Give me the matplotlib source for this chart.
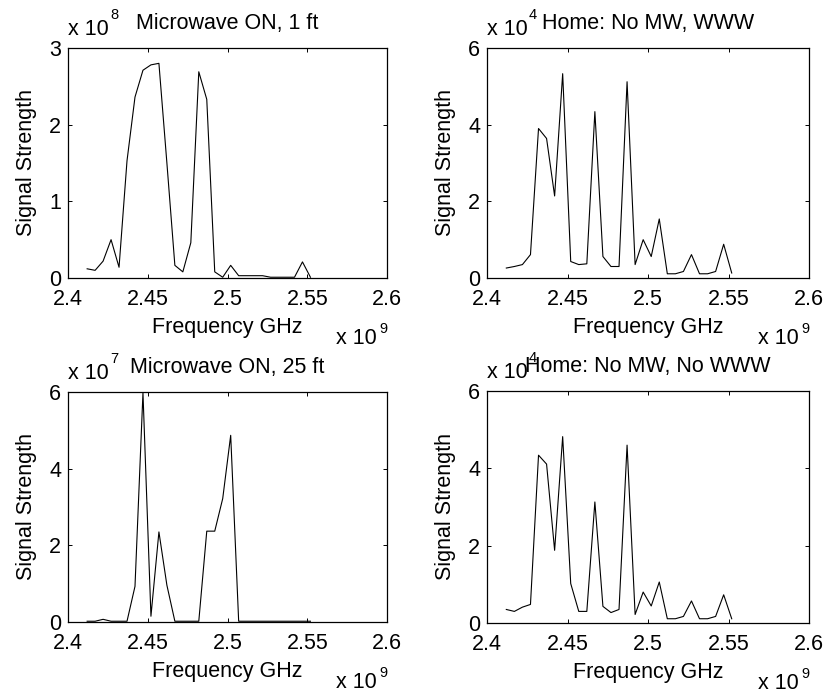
import matplotlib
matplotlib.use("Agg")
import matplotlib.pyplot as plt
import numpy as np
from matplotlib.ticker import FixedLocator, FuncFormatter

plt.rcParams["font.family"] = ["Liberation Sans", "DejaVu Sans"]

# channel centre frequencies, GHz
freq_ghz = [2.412, 2.417, 2.422, 2.427, 2.432, 2.437, 2.442, 2.447, 2.452, 2.457,
            2.462, 2.467, 2.472, 2.477, 2.482, 2.487, 2.492, 2.497, 2.502, 2.507,
            2.512, 2.517, 2.522, 2.527, 2.532, 2.537, 2.542, 2.547, 2.552]

# signal strength, in units of the axis exponent
mw_1ft = [0.12, 0.10, 0.22, 0.50, 0.14, 1.53, 2.36, 2.71, 2.78, 2.80,
          1.50, 0.165, 0.08, 0.46, 2.69, 2.33, 0.08, 0.01, 0.165, 0.03,
          0.03, 0.03, 0.03, 0.01, 0.01, 0.01, 0.01, 0.21, 0.01]
home_www = [0.26, 0.30, 0.35, 0.61, 3.90, 3.64, 2.14, 5.33, 0.43, 0.35,
            0.37, 4.34, 0.56, 0.30, 0.30, 5.12, 0.35, 1.00, 0.56, 1.54,
            0.11, 0.11, 0.17, 0.61, 0.11, 0.11, 0.17, 0.88, 0.13]
mw_25ft = [0.02, 0.02, 0.07, 0.02, 0.02, 0.02, 0.93, 5.98, 0.15, 2.35,
           0.96, 0.02, 0.02, 0.02, 0.02, 2.37, 2.37, 3.22, 4.87, 0.02,
           0.02, 0.02, 0.02, 0.02, 0.02, 0.02, 0.02, 0.02, 0.02]
home_none = [0.35, 0.30, 0.41, 0.48, 4.34, 4.11, 1.88, 4.82, 1.02, 0.30,
             0.30, 3.13, 0.43, 0.27, 0.35, 4.60, 0.22, 0.80, 0.44, 1.06,
             0.11, 0.11, 0.17, 0.57, 0.11, 0.11, 0.17, 0.73, 0.11]

titles = ["Microwave ON, 1 ft", "Home: No MW, WWW",
          "Microwave ON, 25 ft", "Home: No MW, No WWW"]
series = [mw_1ft, home_www, mw_25ft, home_none]
exps = [8, 4, 7, 4]
yticks = [[0, 1, 2, 3], [0, 2, 4, 6], [0, 2, 4, 6], [0, 2, 4, 6]]
xticks = [2.4, 2.45, 2.5, 2.55, 2.6]

W, H = 825, 694
# axes boxes in pixels: left, top, right, bottom
boxes = [(68, 48, 387, 278), (487, 48, 809, 278),
         (68, 392, 387, 622), (487, 391, 809, 623)]

fs = 15.5
fig = plt.figure(figsize=(W / 100, H / 100), dpi=100)
freq_hz = np.array(freq_ghz) * 1e9

for (l, t, r, b), title, vals, e, yt in zip(boxes, titles, series, exps, yticks):
    ax = fig.add_axes([l / W, (H - b) / H, (r - l) / W, (b - t) / H])
    w, h = r - l, b - t
    ax.plot(freq_hz, np.array(vals) * 10.0 ** e, color="black", lw=0.8)
    ax.set_xlim(2.4e9, 2.6e9)
    ax.set_ylim(0, yt[-1] * 10.0 ** e)
    ax.xaxis.set_major_locator(FixedLocator([v * 1e9 for v in xticks]))
    ax.yaxis.set_major_locator(FixedLocator([v * 10.0 ** e for v in yt]))
    ax.xaxis.set_major_formatter(FuncFormatter(lambda v, p: "%g" % round(v / 1e9, 3)))
    ax.yaxis.set_major_formatter(FuncFormatter(lambda v, p, e=e: "%g" % round(v / 10.0 ** e, 3)))
    ax.tick_params(direction="in", length=3, width=0.7, top=True, right=True,
                   labelsize=fs)
    ax.tick_params(axis="x", pad=8)
    ax.tick_params(axis="y", pad=5)
    for s in ax.spines.values():
        s.set_linewidth(0.9)

    ax.set_xlabel("Frequency GHz", fontsize=fs)
    ax.xaxis.set_label_coords(0.5, -39 / h)
    ax.set_ylabel("Signal Strength", fontsize=fs)
    ax.yaxis.set_label_coords(-31 / w, 0.5)

    ax.text(0.5, 1 + 19 / h, title, transform=ax.transAxes, ha="center",
            va="baseline", fontsize=fs)
    # exponent for the y axis, above the top left corner
    ax.text(0, 1 + 13 / h, "x 10", transform=ax.transAxes, ha="left",
            va="baseline", fontsize=fs)
    ax.text(42 / w, 1 + 29 / h, str(e), transform=ax.transAxes, ha="left",
            va="baseline", fontsize=10.5)
    # exponent for the x axis, below the bottom right corner
    ax.text(1 - 10 / w, -66 / h, "x 10", transform=ax.transAxes, ha="right",
            va="baseline", fontsize=fs)
    ax.text(1 - 8 / w, -55 / h, "9", transform=ax.transAxes, ha="left",
            va="baseline", fontsize=10.5)

fig.savefig("out.png", dpi=100)
